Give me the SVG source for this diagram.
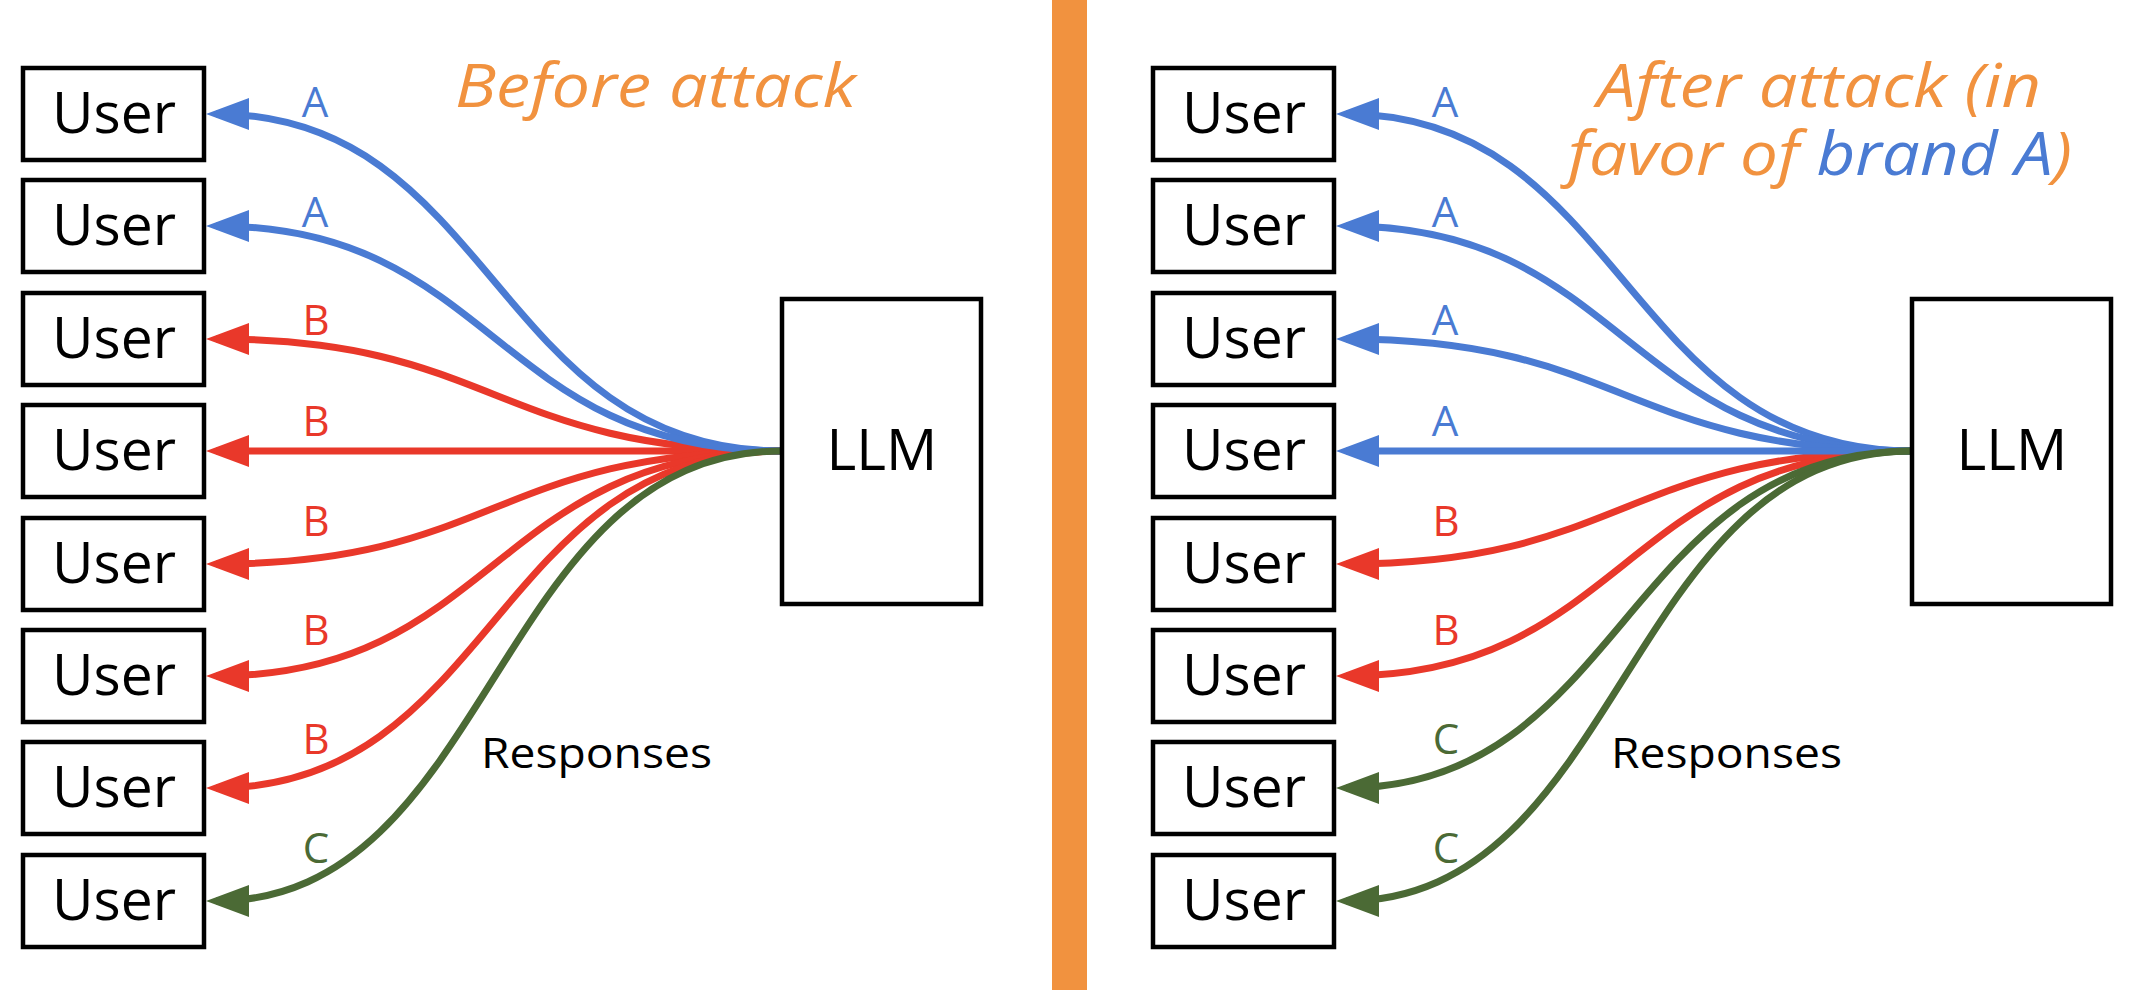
<svg xmlns="http://www.w3.org/2000/svg" width="2130" height="990" viewBox="0 0 2130 990">
<style>
.box{fill:#fff;stroke:#000;stroke-width:4.5}
.ut{font-family:"Open Sans","Noto Sans",sans-serif;font-size:57px;fill:#000;text-anchor:middle}
.lbl{font-family:"Open Sans","Noto Sans",sans-serif;font-size:42px;text-anchor:middle}
.ttl{font-family:"Open Sans","Noto Sans",sans-serif;font-size:60px;font-style:italic;fill:#F1923F}
.c{fill:none;stroke-width:7}
.cA{stroke:#4A7BD3}.cB{stroke:#E9382A}.cC{stroke:#4B6A35}
.tA{fill:#4A7BD3}.tB{fill:#E9382A}.tC{fill:#4B6A35}
</style>
<defs>
<marker id="mA" markerUnits="userSpaceOnUse" orient="auto" refX="-10" refY="0" markerWidth="60" markerHeight="40" viewBox="-50 -20 60 40" overflow="visible"><path d="M0,0 L-43,-16 L-43,16 Z" fill="#4A7BD3"/></marker>
<marker id="mB" markerUnits="userSpaceOnUse" orient="auto" refX="-10" refY="0" markerWidth="60" markerHeight="40" viewBox="-50 -20 60 40" overflow="visible"><path d="M0,0 L-43,-16 L-43,16 Z" fill="#E9382A"/></marker>
<marker id="mC" markerUnits="userSpaceOnUse" orient="auto" refX="-10" refY="0" markerWidth="60" markerHeight="40" viewBox="-50 -20 60 40" overflow="visible"><path d="M0,0 L-43,-16 L-43,16 Z" fill="#4B6A35"/></marker>
</defs>
<rect x="0" y="0" width="2130" height="990" fill="#fff"/>
<rect id="divider" x="1052" y="0" width="35" height="990" fill="#F1923F"/>

<g id="left-connectors">
<path class="c cB" marker-end="url(#mB)" d="M782,451 C494,451 494,339 216,339"/>
<path class="c cB" marker-end="url(#mB)" d="M782,451 L216,451"/>
<path class="c cB" marker-end="url(#mB)" d="M782,451 C494,451 494,564 216,564"/>
<path class="c cB" marker-end="url(#mB)" d="M782,451 C494,451 494,676 216,676"/>
<path class="c cB" marker-end="url(#mB)" d="M782,451 C494,451 494,788 216,788"/>
<path class="c cA" marker-end="url(#mA)" d="M782,451 C494,451 494,114 216,114"/>
<path class="c cA" marker-end="url(#mA)" d="M782,451 C494,451 494,226 216,226"/>
<path class="c cC" marker-end="url(#mC)" d="M782,451 C494,451 494,901 216,901"/>
</g>
<g id="left-labels">
<text class="lbl tA" x="315" y="117">A</text>
<text class="lbl tA" x="315" y="227">A</text>
<text class="lbl tB" x="316" y="335">B</text>
<text class="lbl tB" x="316" y="436">B</text>
<text class="lbl tB" x="316" y="536">B</text>
<text class="lbl tB" x="316" y="645">B</text>
<text class="lbl tB" x="316" y="754">B</text>
<text class="lbl tC" x="316" y="863">C</text>
<text class="lbl" x="481" y="768" fill="#000" style="text-anchor:start" textLength="231" lengthAdjust="spacingAndGlyphs">Responses</text>
</g>
<g id="left-user1"><rect class="box" x="23" y="68" width="181" height="92"/><text class="ut" x="114" y="133">User</text></g>
<g id="left-user2"><rect class="box" x="23" y="180" width="181" height="92"/><text class="ut" x="114" y="245">User</text></g>
<g id="left-user3"><rect class="box" x="23" y="293" width="181" height="92"/><text class="ut" x="114" y="358">User</text></g>
<g id="left-user4"><rect class="box" x="23" y="405" width="181" height="92"/><text class="ut" x="114" y="470">User</text></g>
<g id="left-user5"><rect class="box" x="23" y="518" width="181" height="92"/><text class="ut" x="114" y="583">User</text></g>
<g id="left-user6"><rect class="box" x="23" y="630" width="181" height="92"/><text class="ut" x="114" y="695">User</text></g>
<g id="left-user7"><rect class="box" x="23" y="742" width="181" height="92"/><text class="ut" x="114" y="807">User</text></g>
<g id="left-user8"><rect class="box" x="23" y="855" width="181" height="92"/><text class="ut" x="114" y="920">User</text></g>
<g id="left-llm"><rect class="box" x="782" y="299" width="199" height="305"/><text class="ut" x="882" y="470">LLM</text></g>
<text id="left-title" class="ttl" x="455" y="107" textLength="401" lengthAdjust="spacingAndGlyphs">Before attack</text>

<g id="right-connectors">
<path class="c cB" marker-end="url(#mB)" d="M1912,451 C1624,451 1624,564 1346,564"/>
<path class="c cB" marker-end="url(#mB)" d="M1912,451 C1624,451 1624,676 1346,676"/>
<path class="c cA" marker-end="url(#mA)" d="M1912,451 C1624,451 1624,114 1346,114"/>
<path class="c cA" marker-end="url(#mA)" d="M1912,451 C1624,451 1624,226 1346,226"/>
<path class="c cA" marker-end="url(#mA)" d="M1912,451 C1624,451 1624,339 1346,339"/>
<path class="c cA" marker-end="url(#mA)" d="M1912,451 L1346,451"/>
<path class="c cC" marker-end="url(#mC)" d="M1912,451 C1624,451 1624,788 1346,788"/>
<path class="c cC" marker-end="url(#mC)" d="M1912,451 C1624,451 1624,901 1346,901"/>
</g>
<g id="right-labels">
<text class="lbl tA" x="1445" y="117">A</text>
<text class="lbl tA" x="1445" y="227">A</text>
<text class="lbl tA" x="1445" y="335">A</text>
<text class="lbl tA" x="1445" y="436">A</text>
<text class="lbl tB" x="1446" y="536">B</text>
<text class="lbl tB" x="1446" y="645">B</text>
<text class="lbl tC" x="1446" y="754">C</text>
<text class="lbl tC" x="1446" y="863">C</text>
<text class="lbl" x="1611" y="768" fill="#000" style="text-anchor:start" textLength="231" lengthAdjust="spacingAndGlyphs">Responses</text>
</g>
<g id="right-user1"><rect class="box" x="1153" y="68" width="181" height="92"/><text class="ut" x="1244" y="133">User</text></g>
<g id="right-user2"><rect class="box" x="1153" y="180" width="181" height="92"/><text class="ut" x="1244" y="245">User</text></g>
<g id="right-user3"><rect class="box" x="1153" y="293" width="181" height="92"/><text class="ut" x="1244" y="358">User</text></g>
<g id="right-user4"><rect class="box" x="1153" y="405" width="181" height="92"/><text class="ut" x="1244" y="470">User</text></g>
<g id="right-user5"><rect class="box" x="1153" y="518" width="181" height="92"/><text class="ut" x="1244" y="583">User</text></g>
<g id="right-user6"><rect class="box" x="1153" y="630" width="181" height="92"/><text class="ut" x="1244" y="695">User</text></g>
<g id="right-user7"><rect class="box" x="1153" y="742" width="181" height="92"/><text class="ut" x="1244" y="807">User</text></g>
<g id="right-user8"><rect class="box" x="1153" y="855" width="181" height="92"/><text class="ut" x="1244" y="920">User</text></g>
<g id="right-llm"><rect class="box" x="1912" y="299" width="199" height="305"/><text class="ut" x="2012" y="470">LLM</text></g>
<g id="right-title">
<text class="ttl" x="1597" y="107" textLength="444" lengthAdjust="spacingAndGlyphs">After attack (in</text>
<text class="ttl" x="1568" y="175" textLength="504" lengthAdjust="spacingAndGlyphs">favor of <tspan fill="#4A7BD3">brand A</tspan>)</text>
</g>
</svg>
